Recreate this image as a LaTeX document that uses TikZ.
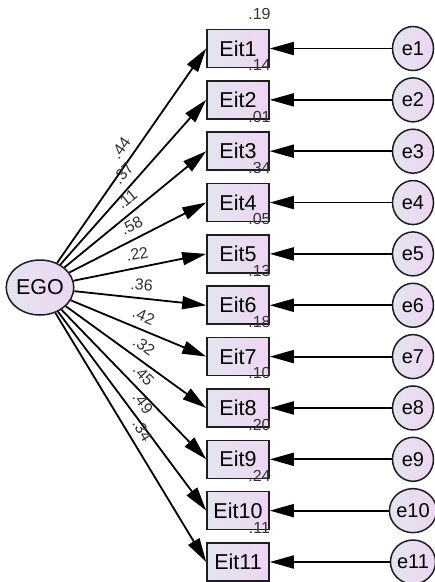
\documentclass[tikz,border=0pt]{standalone}
\usepackage{fontspec}
\setmainfont{Liberation Sans}
\usetikzlibrary{arrows.meta,shapes.geometric}
\definecolor{fillL}{HTML}{E4E4F0}
\definecolor{fillR}{HTML}{EDD6F2}
\definecolor{edgeC}{HTML}{1E1E1E}
\begin{document}
\begin{tikzpicture}[x=1pt,y=-1pt,
  obsbox/.style={rectangle, draw=edgeC, line width=1.6pt, minimum width=62pt, minimum height=38pt, inner sep=0pt, left color=fillL, right color=fillR, font=\fontsize{21.5}{22}\selectfont},
  errnode/.style={ellipse, draw=edgeC, line width=1.5pt, minimum width=41pt, minimum height=44pt, inner sep=0pt, left color=fillL, right color=fillR, font=\fontsize{20}{20}\selectfont},
  latnode/.style={ellipse, draw=edgeC, line width=1.5pt, minimum width=64pt, minimum height=55pt, inner sep=0pt, left color=fillL, right color=fillR, font=\fontsize{21.5}{22}\selectfont},
  arr/.style={draw=black, line width=1.8pt, -{Triangle[length=24pt,width=13pt]}},
  coef/.style={font=\fontsize{16}{16}\selectfont, text=black!80, sloped, above=7pt, inner sep=0pt},
  rsq/.style={font=\fontsize{16}{16}\selectfont, text=black!80, inner sep=0pt}
]
\useasboundingbox (0,0) rectangle (435,582);
\node[latnode] (ego) at (40,287.5) {EGO};
\foreach \i/\l in {1/.44, 2/.37, 3/.11, 4/.58, 5/.22, 6/.36, 7/.42, 8/.32, 9/.45, 10/.49, 11/.34}{
  \pgfmathsetmacro{\yy}{48.5+51.35*(\i-1)}
  \node[obsbox] (eit\i) at (238,\yy) {Eit\i};
  \node[errnode] (e\i) at (413,\yy) {e\i};
  \draw[arr] (e\i) -- (eit\i);
  \draw[arr] (ego) -- node[coef] (l\i) {\l} (eit\i.west);
}
\foreach \i/\r in {1/.19, 2/.14, 3/.01, 4/.34, 5/.05, 6/.13, 7/.18, 8/.10, 9/.20, 10/.24, 11/.11}{
  \pgfmathsetmacro{\yy}{48.5+51.35*(\i-1)-34.5}
  \node[rsq] (r\i) at (259.5,\yy) {\r};
}
\end{tikzpicture}
\end{document}
